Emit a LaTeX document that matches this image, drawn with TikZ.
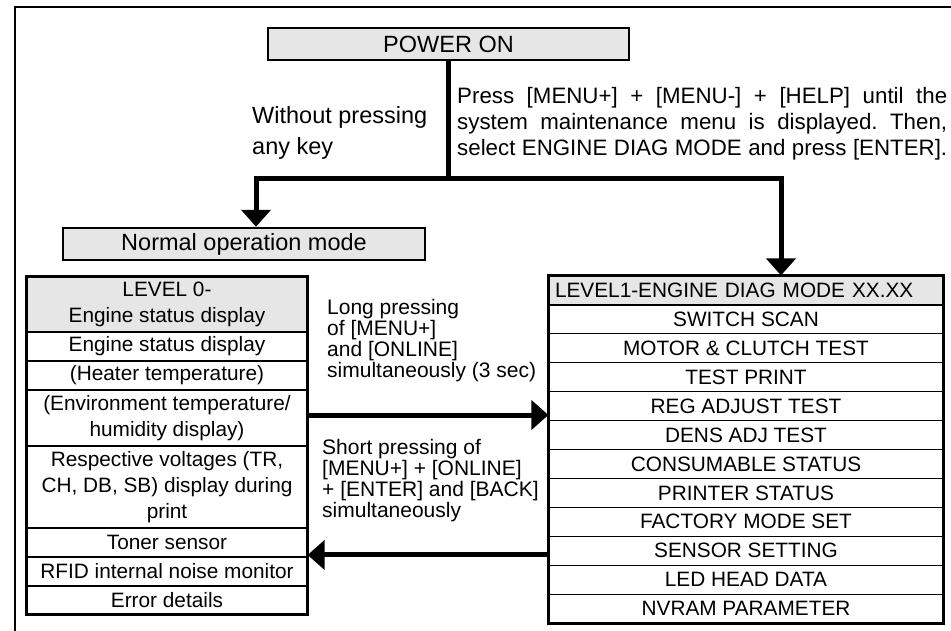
\documentclass[tikz,border=0pt]{standalone}
\usepackage{fontspec}
\setmainfont{Liberation Sans}
\usetikzlibrary{arrows.meta}
\definecolor{boxgray}{RGB}{230,230,230}
\frenchspacing
\begin{document}
\begin{tikzpicture}[x=1pt,y=-1pt,
  bar/.style={line width=5pt},
  arr/.style={line width=5pt,-{Triangle[length=17pt,width=29pt]}},
  titlebox/.style={draw,line width=2.5pt,fill=boxgray,minimum height=32pt,inner sep=0pt,
    font=\fontsize{23.5}{28}\selectfont},
  cellzero/.style={draw,line width=1.2pt,minimum width=280pt,inner sep=0pt,align=center,
    font=\fontsize{20.8}{26}\selectfont},
  cellone/.style={draw,line width=1.2pt,minimum width=394pt,minimum height=28.92pt,inner sep=0pt,align=center,
    font=\fontsize{20.8}{26}\selectfont},
  outline/.style={line width=2.5pt},
  note/.style={inner sep=0pt,anchor=base west}
]
\useasboundingbox (0,0) rectangle (951,630);
% outer frame (cropped)
\draw[line width=2.7pt] (15,640) -- (15,7) -- (960,7);

% top boxes
\node[titlebox,minimum width=361pt] (power) at (448.5,44) {POWER ON};
\node[titlebox,minimum width=362pt] (normal) at (244,244) {Normal operation mode};

% LEVEL 0 column
\node[cellzero,fill=boxgray,minimum height=55pt] (l0h) at (167,304.5) {LEVEL 0-\\Engine status display};
\node[cellzero,minimum height=29pt] (l0r1) at (167,346.5) {Engine status display};
\node[cellzero,minimum height=29pt] (l0r2) at (167,375.5) {(Heater temperature)};
\node[cellzero,minimum height=56pt] (l0r3) at (167,418) {(Environment temperature/\\humidity display)};
\node[cellzero,minimum height=82pt] (l0r4) at (167,487) {Respective voltages (TR,\\CH, DB, SB) display during\\print};
\node[cellzero,minimum height=29pt] (l0r5) at (167,542.5) {Toner sensor};
\node[cellzero,minimum height=29pt] (l0r6) at (167,571.5) {RFID internal noise monitor};
\node[cellzero,minimum height=28pt] (l0r7) at (167,600) {Error details};
\draw[outline] (l0h.north west) rectangle (l0r7.south east);

% LEVEL 1 column
\node[cellone,fill=boxgray,text width=382pt,inner xsep=6pt,align=left] (l1r0) at (746,290.46)
  {LEVEL1-ENGINE DIAG MODE XX.XX};
\foreach \i/\t in {1/SWITCH SCAN,2/MOTOR \& CLUTCH TEST,3/TEST PRINT,4/REG ADJUST TEST,
  5/DENS ADJ TEST,6/CONSUMABLE STATUS,7/PRINTER STATUS,8/FACTORY MODE SET,
  9/SENSOR SETTING,10/LED HEAD DATA,11/NVRAM PARAMETER}{
  \node[cellone] (l1r\i) at (746,{276+28.92*(\i+0.5)}) {\t};
}
\draw[outline] (l1r0.north west) rectangle (l1r11.south east);

% connectors
\coordinate (jl) at (256,178);
\coordinate (jr) at (781,178);
\draw[bar] (power.south) -- (power.south |- jl);
\draw[arr] (jr) -- (jl) -- (jl |- normal.north);
\draw[arr] (jl) -- (jr) -- (jr |- l1r0.north);
\draw[arr] ([yshift=3pt]l0r3.east) -- ([yshift=3pt]l0r3.east -| l1r0.west);
\draw[arr] ([yshift=-4.2pt]l1r9.west) -- ([yshift=-4.2pt]l1r9.west -| l0r5.east);

% labels
\node[note] (lblwithout) at (252,123)
  {\parbox[t]{190pt}{\fontsize{23.5}{31.5}\selectfont Without pressing\\any key}};
\node[note] (lblpress) at (457,103)
  {\parbox[t]{490pt}{\fontsize{22.3}{26}\selectfont
   \makebox[490pt][s]{Press [MENU+] + [MENU-] + [HELP] until the}\\
   \makebox[490pt][s]{system maintenance menu is displayed. Then,}\\
   \makebox[490pt][s]{select ENGINE DIAG MODE and press [ENTER].}}};
\node[note] (lbllong) at (327,314)
  {\parbox[t]{220pt}{\raggedright\fontsize{21}{21.3}\selectfont Long pressing\\of [MENU+]\\and [ONLINE]\\simultaneously (3 sec)}};
\node[note] (lblshort) at (322,454)
  {\parbox[t]{225pt}{\raggedright\fontsize{21}{21.3}\selectfont Short pressing of\\{}[MENU+] + [ONLINE]\\+ [ENTER] and [BACK]\\simultaneously}};
\end{tikzpicture}
\end{document}
